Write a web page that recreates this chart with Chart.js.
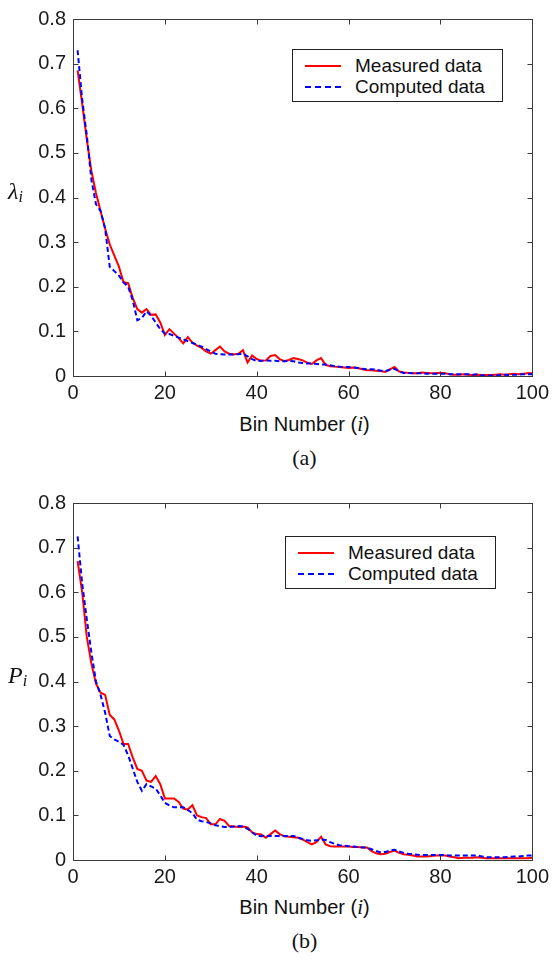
<!DOCTYPE html>
<html>
<head>
<meta charset="utf-8">
<script src="https://cdn.jsdelivr.net/npm/chart.js@4.4.1/dist/chart.umd.min.js"></script>
<style>
  body { margin: 0; background: #fff; }
  #wrap { position: relative; width: 554px; height: 960px; font-family: "Liberation Sans", Arial, sans-serif; color: #111; }
  canvas { position: absolute; left: 0; }
  .ylab { position: absolute; font: italic 24px "Liberation Serif", "Times New Roman", serif; }
  .ylab sub { font-size: 16px; vertical-align: -3px; }
  .xlab { position: absolute; left: 73px; width: 463px; text-align: center; font-size: 20px; }
  .xlab i { font-family: "Liberation Serif", serif; font-size: 21px; }
  .cap { position: absolute; left: 73px; width: 463px; text-align: center; font: 22px "Liberation Serif", "Times New Roman", serif; }
  .legend { position: absolute; width: 209px; height: 51px; border: 1px solid #222; background: #fff; font-size: 19px; }
  .legend .row { position: absolute; left: 0; height: 21px; line-height: 21px; white-space: nowrap; }
  .legend .sample { position: absolute; left: 12px; top: 10px; width: 36px; height: 0; }
  .legend .txt { position: absolute; left: 62px; top: 0; }
</style>
</head>
<body>
<div id="wrap">
  <canvas id="chartA" width="554" height="400" style="top:0"></canvas>
  <div class="ylab" style="left:8px;top:178px">λ<sub>i</sub></div>
  <div class="legend" style="left:292px;top:49px">
    <div class="row" style="top:5px"><span class="sample" style="border-top:2px solid #f00"></span><span class="txt">Measured data</span></div>
    <div class="row" style="top:26px"><span class="sample" style="border-top:2px dashed #00f"></span><span class="txt">Computed data</span></div>
  </div>
  <div class="xlab" style="top:412px">Bin Number (<i>i</i>)</div>
  <div class="cap" style="top:445px">(a)</div>

  <canvas id="chartB" width="554" height="400" style="top:484px"></canvas>
  <div class="ylab" style="left:8px;top:662px">P<sub>i</sub></div>
  <div class="legend" style="left:285px;top:536px">
    <div class="row" style="top:5px"><span class="sample" style="border-top:2px solid #f00"></span><span class="txt">Measured data</span></div>
    <div class="row" style="top:26px"><span class="sample" style="border-top:2px dashed #00f"></span><span class="txt">Computed data</span></div>
  </div>
  <div class="xlab" style="top:895px">Bin Number (<i>i</i>)</div>
  <div class="cap" style="top:928px">(b)</div>
</div>

<script>
// ===== DATA =====
const bins = Array.from({ length: 100 }, (_, k) => k + 1);
const xTicks = [0, 20, 40, 60, 80, 100];
const yTicks = [0, 0.1, 0.2, 0.3, 0.4, 0.5, 0.6, 0.7, 0.8];

// (a) lambda_i
const lambdaMeasured = [
  0.685, 0.61, 0.53, 0.46, 0.41, 0.37, 0.33, 0.295, 0.27, 0.245,
  0.21, 0.208, 0.175, 0.15, 0.142, 0.15, 0.137, 0.138, 0.12, 0.092,
  0.105, 0.095, 0.085, 0.073, 0.087, 0.075, 0.068, 0.063, 0.055, 0.05,
  0.058, 0.066, 0.055, 0.05, 0.048, 0.05, 0.058, 0.03, 0.046, 0.038,
  0.034, 0.035, 0.045, 0.047, 0.038, 0.033, 0.036, 0.04, 0.038, 0.035,
  0.03, 0.027, 0.035, 0.04, 0.025, 0.022, 0.021, 0.02, 0.019, 0.018,
  0.019, 0.018, 0.015, 0.013, 0.013, 0.012, 0.011, 0.009, 0.015, 0.02,
  0.01, 0.008, 0.007, 0.006, 0.006, 0.008, 0.007, 0.006, 0.006, 0.007,
  0.006, 0.004, 0.003, 0.003, 0.004, 0.003, 0.002, 0.003, 0.002, 0.002,
  0.002, 0.003, 0.004, 0.003, 0.004, 0.005, 0.004, 0.005, 0.006, 0.006
];
const lambdaComputed = [
  0.73, 0.62, 0.54, 0.44, 0.385, 0.37, 0.33, 0.245, 0.235, 0.225,
  0.21, 0.2, 0.17, 0.125, 0.13, 0.145, 0.135, 0.12, 0.105, 0.095,
  0.094, 0.09, 0.086, 0.082, 0.078, 0.074, 0.07, 0.066, 0.06, 0.055,
  0.05, 0.049, 0.048, 0.048, 0.048, 0.049, 0.05, 0.044, 0.038, 0.033,
  0.034, 0.035, 0.034, 0.034, 0.033, 0.033, 0.034, 0.033, 0.03, 0.029,
  0.028, 0.028, 0.027, 0.026, 0.026, 0.024, 0.022, 0.021, 0.02, 0.02,
  0.019, 0.018, 0.016, 0.015, 0.015, 0.014, 0.012, 0.011, 0.014, 0.016,
  0.01, 0.007, 0.007, 0.006, 0.006, 0.006, 0.005, 0.005, 0.005, 0.005,
  0.005, 0.004, 0.004, 0.004, 0.004, 0.004, 0.003, 0.004, 0.002, 0.0,
  0.001, 0.001, 0.002, 0.003, 0.002, 0.003, 0.003, 0.004, 0.004, 0.004
];

// (b) P_i
const probMeasured = [
  0.67, 0.6, 0.5, 0.44, 0.395, 0.375, 0.37, 0.325, 0.315, 0.29,
  0.26, 0.26, 0.23, 0.204, 0.2, 0.178, 0.175, 0.188, 0.17, 0.138,
  0.138, 0.138, 0.13, 0.115, 0.113, 0.123, 0.1, 0.096, 0.094, 0.08,
  0.08, 0.092, 0.088, 0.076, 0.075, 0.074, 0.075, 0.073, 0.062, 0.058,
  0.057, 0.05, 0.058, 0.066, 0.058, 0.053, 0.052, 0.051, 0.05, 0.046,
  0.04, 0.035, 0.04, 0.052, 0.035, 0.031, 0.03, 0.03, 0.03, 0.03,
  0.029, 0.029, 0.028, 0.028, 0.02, 0.015, 0.013, 0.014, 0.018, 0.021,
  0.016, 0.013, 0.012, 0.01, 0.008, 0.008, 0.008, 0.009, 0.01, 0.01,
  0.01, 0.008, 0.006, 0.004, 0.005, 0.005, 0.005, 0.006, 0.005, 0.004,
  0.004, 0.004, 0.004, 0.004, 0.004, 0.004, 0.004, 0.004, 0.004, 0.005
];
const probComputed = [
  0.725, 0.62, 0.54, 0.465, 0.4, 0.37, 0.33, 0.278, 0.27, 0.265,
  0.258, 0.235, 0.205, 0.175, 0.155, 0.17, 0.165, 0.16, 0.145, 0.128,
  0.122, 0.118, 0.118, 0.118, 0.112, 0.105, 0.09, 0.087, 0.085, 0.082,
  0.078, 0.076, 0.074, 0.074, 0.075, 0.076, 0.075, 0.07, 0.062, 0.054,
  0.053, 0.054, 0.054, 0.054, 0.054, 0.054, 0.054, 0.054, 0.05, 0.047,
  0.044, 0.043, 0.044, 0.046, 0.045, 0.04, 0.036, 0.033, 0.032, 0.031,
  0.03, 0.029, 0.028, 0.028, 0.024, 0.02, 0.017, 0.018, 0.021, 0.023,
  0.019, 0.016, 0.014, 0.013, 0.012, 0.011, 0.011, 0.011, 0.011, 0.011,
  0.011, 0.01, 0.01, 0.01, 0.01, 0.01, 0.01, 0.01, 0.008, 0.006,
  0.006, 0.006, 0.006, 0.006, 0.007, 0.008, 0.008, 0.009, 0.01, 0.01
];

// ===== BOX + INWARD TICKS (matlab look) =====
const boxTicks = {
  id: "boxTicks",
  afterDraw(chart) {
    const ctx = chart.ctx;
    const a = chart.chartArea;
    const x = chart.scales.x, y = chart.scales.y;
    const L = Math.round(a.left) + 0.5, R = Math.round(a.right) + 0.5;
    const T = Math.round(a.top) + 0.5, B = Math.round(a.bottom) + 0.5;
    ctx.save();
    ctx.strokeStyle = "#3a3a3a";
    ctx.lineWidth = 1;
    ctx.beginPath();
    xTicks.forEach(v => {
      const px = Math.round(x.getPixelForValue(v)) + 0.5;
      ctx.moveTo(px, B); ctx.lineTo(px, B - 5);
      ctx.moveTo(px, T); ctx.lineTo(px, T + 5);
    });
    yTicks.forEach(v => {
      const py = Math.round(y.getPixelForValue(v)) + 0.5;
      ctx.moveTo(L, py); ctx.lineTo(L + 5, py);
      ctx.moveTo(R, py); ctx.lineTo(R - 5, py);
    });
    ctx.stroke();
    ctx.strokeRect(L, T, R - L, B - T);
    ctx.restore();
  }
};

function toPoints(values) {
  return values.map((v, k) => ({ x: bins[k], y: v }));
}

function makeChart(id, measured, computed) {
  const tickFont = { family: "'Liberation Sans', Arial, sans-serif", size: 20 };
  return new Chart(document.getElementById(id), {
    type: "line",
    data: {
      datasets: [
        {
          label: "Measured data",
          data: toPoints(measured),
          borderColor: "#ff0000",
          borderWidth: 2,
          pointRadius: 0,
          order: 1
        },
        {
          label: "Computed data",
          data: toPoints(computed),
          borderColor: "#0000ff",
          borderWidth: 2,
          borderDash: [5, 3],
          pointRadius: 0,
          order: 0
        }
      ]
    },
    options: {
      responsive: false,
      animation: false,
      devicePixelRatio: 1,
      layout: { padding: { top: 12, right: 18, left: 0, bottom: 0 } },
      plugins: { legend: { display: false }, tooltip: { enabled: false } },
      scales: {
        x: {
          type: "linear",
          min: 0,
          max: 100,
          afterFit: s => { s.height = 24; },
          afterBuildTicks: s => { s.ticks = xTicks.map(v => ({ value: v })); },
          grid: { display: false, drawTicks: false },
          border: { display: false },
          ticks: { font: tickFont, color: "#1a1a1a", padding: 5, maxRotation: 0 }
        },
        y: {
          min: 0,
          max: 0.8,
          afterFit: s => { s.width = 73; },
          afterBuildTicks: s => { s.ticks = yTicks.map(v => ({ value: v })); },
          grid: { display: false, drawTicks: false },
          border: { display: false },
          ticks: {
            font: tickFont,
            color: "#1a1a1a",
            padding: 7,
            callback: v => String(+v.toFixed(1))
          }
        }
      }
    },
    plugins: [boxTicks]
  });
}

makeChart("chartA", lambdaMeasured, lambdaComputed);
makeChart("chartB", probMeasured, probComputed);
</script>
</body>
</html>
